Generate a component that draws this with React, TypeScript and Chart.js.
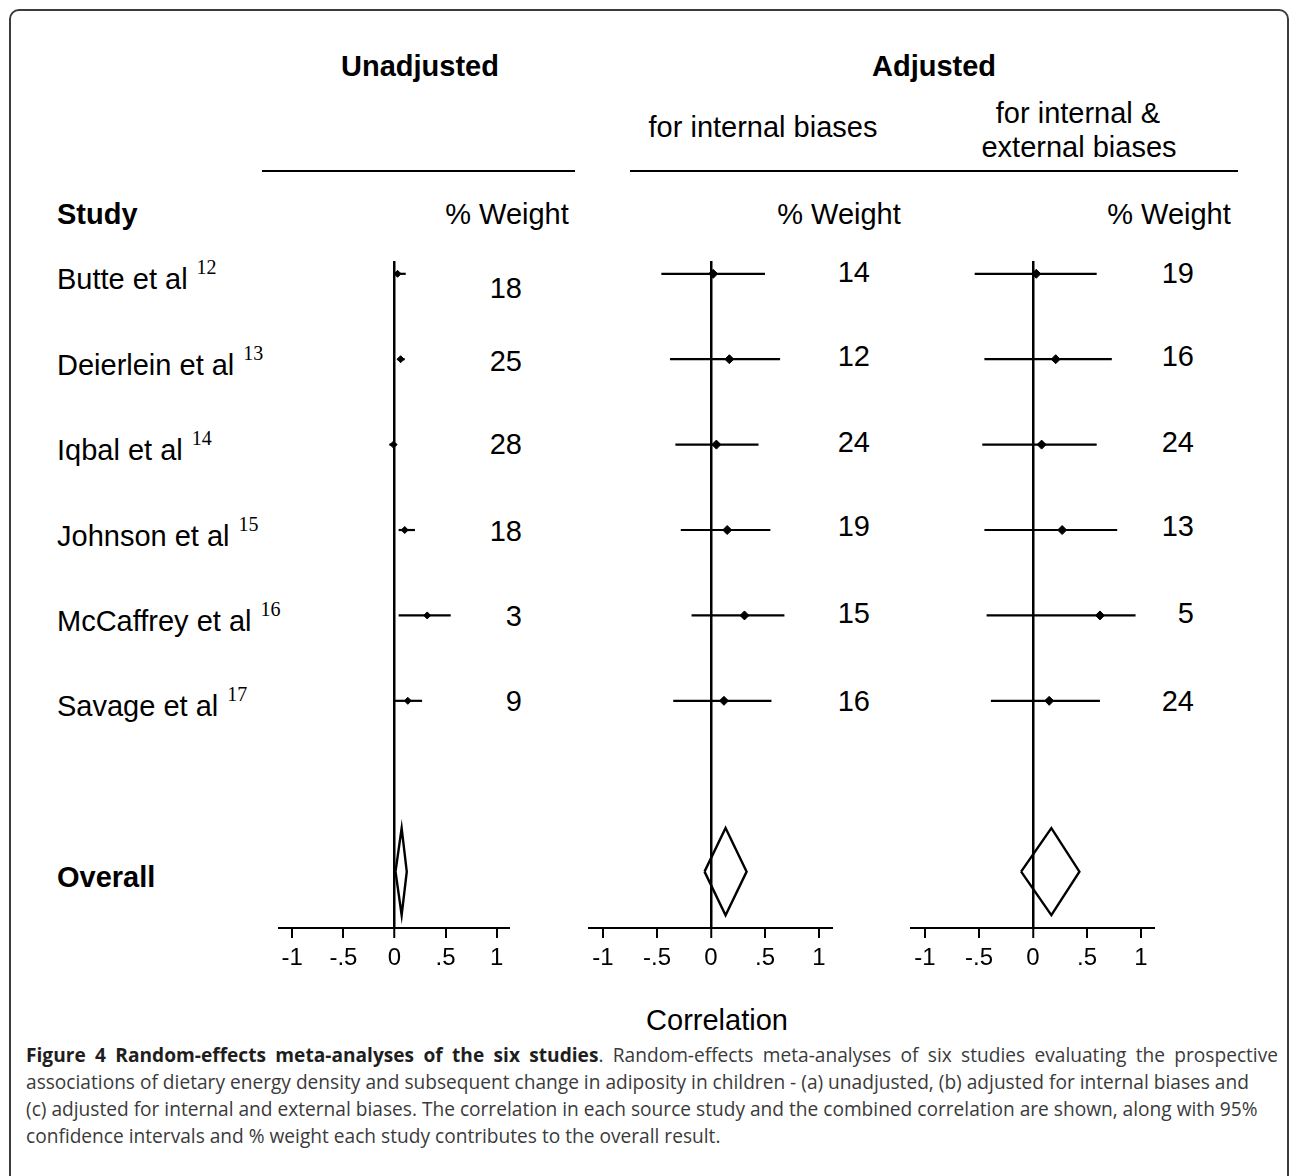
import React, { useEffect, useLayoutEffect, useRef, useState } from 'react';
import { Chart, registerables } from 'chart.js';

Chart.register(...registerables);

// ---------- data ----------
const STUDIES = ['Butte et al', 'Deierlein et al', 'Iqbal et al', 'Johnson et al', 'McCaffrey et al', 'Savage et al'];
const REFS = ['12', '13', '14', '15', '16', '17'];

const TICK_VALUES = [-1, -0.5, 0, 0.5, 1];
const TICK_LABELS = ['-1', '-.5', '0', '.5', '1'];

// (a) unadjusted
const UNADJ_EST = [0.03, 0.06, -0.01, 0.1, 0.32, 0.13];
const UNADJ_LO = [-0.01, 0.03, -0.05, 0.04, 0.04, 0.0];
const UNADJ_HI = [0.11, 0.1, 0.02, 0.2, 0.55, 0.27];
const UNADJ_WEIGHT = [18, 25, 28, 18, 3, 9];
const UNADJ_OVERALL = [0.07, 0.01, 0.12]; // estimate, lower, upper

// (b) adjusted for internal biases
const INT_EST = [0.02, 0.17, 0.05, 0.15, 0.31, 0.12];
const INT_LO = [-0.46, -0.38, -0.33, -0.28, -0.18, -0.35];
const INT_HI = [0.5, 0.64, 0.44, 0.55, 0.68, 0.56];
const INT_WEIGHT = [14, 12, 24, 19, 15, 16];
const INT_OVERALL = [0.135, -0.06, 0.33];

// (c) adjusted for internal & external biases
const EXT_EST = [0.03, 0.21, 0.08, 0.27, 0.62, 0.15];
const EXT_LO = [-0.54, -0.45, -0.47, -0.45, -0.43, -0.39];
const EXT_HI = [0.59, 0.73, 0.59, 0.78, 0.95, 0.62];
const EXT_WEIGHT = [19, 16, 24, 13, 5, 24];
const EXT_OVERALL = [0.17, -0.11, 0.43];

// ---------- layout constants ----------
const SANS = '"Liberation Sans", Arial, Helvetica, sans-serif';
const X_EXT = 1.13;
const Y_MIN = -0.15;
const Y_MAX = 7.66;
const OVERALL_ROW = 7;
const DIAMOND_HALF = 0.51;
const AREA_TOP = 261;
const AREA_BOTTOM = 928;
const PAD_X = 24;
const PAD_TOP = 20;
const AXIS_H = 72;
const FS = 29;

const rowY = (v: number) => AREA_TOP + ((v - Y_MIN) * (AREA_BOTTOM - AREA_TOP)) / (Y_MAX - Y_MIN);

type PanelProps = {
  est: number[];
  lo: number[];
  hi: number[];
  overall: number[];
  center: number;
  ppu: number;
  markerR: number;
};

function Panel({ est, lo, hi, overall, center, ppu, markerR }: PanelProps) {
  const ref = useRef<HTMLCanvasElement>(null);
  const width = Math.round(2 * X_EXT * ppu + 2 * PAD_X);
  const left = center - X_EXT * ppu - PAD_X;
  const top = AREA_TOP - PAD_TOP;
  const height = AREA_BOTTOM + AXIS_H - top;

  useEffect(() => {
    if (!ref.current) return;
    const ciSets = est.map((_, i) => ({
      type: 'scatter' as const,
      data: [
        { x: lo[i], y: i },
        { x: hi[i], y: i },
      ],
      showLine: true,
      borderColor: '#000',
      borderWidth: 2.2,
      pointRadius: 0,
      fill: false,
    }));
    const points = {
      type: 'scatter' as const,
      data: est.map((e, i) => ({ x: e, y: i })),
      showLine: false,
      pointStyle: 'rectRot' as const,
      pointRadius: markerR,
      backgroundColor: '#000',
      borderColor: '#000',
      borderWidth: 1,
    };
    const [oe, ol, oh] = overall;
    const diamond = {
      type: 'scatter' as const,
      data: [
        { x: ol, y: OVERALL_ROW },
        { x: oe, y: OVERALL_ROW - DIAMOND_HALF },
        { x: oh, y: OVERALL_ROW },
        { x: oe, y: OVERALL_ROW + DIAMOND_HALF },
        { x: ol, y: OVERALL_ROW },
      ],
      showLine: true,
      borderColor: '#000',
      borderWidth: 2.4,
      borderJoinStyle: 'miter' as const,
      pointRadius: 0,
      fill: false,
      tension: 0,
    };
    const chart = new Chart(ref.current, {
      type: 'scatter',
      data: { datasets: [...ciSets, points, diamond] as any },
      options: {
        animation: false,
        responsive: false,
        maintainAspectRatio: false,
        events: [],
        layout: { padding: { left: PAD_X, right: PAD_X, top: PAD_TOP, bottom: 0 } },
        plugins: { legend: { display: false }, tooltip: { enabled: false } },
        scales: {
          x: {
            type: 'linear',
            position: 'bottom',
            min: -X_EXT,
            max: X_EXT,
            afterBuildTicks: (s: any) => {
              s.ticks = TICK_VALUES.map((v) => ({ value: v }));
            },
            afterFit: (s: any) => {
              s.height = AXIS_H;
            },
            ticks: {
              autoSkip: false,
              maxRotation: 0,
              padding: 6,
              color: '#000',
              font: { family: SANS, size: 24 },
              callback: (v: any) => {
                const k = TICK_VALUES.indexOf(Number(v));
                return k >= 0 ? TICK_LABELS[k] : '';
              },
            },
            grid: {
              drawOnChartArea: true,
              drawTicks: true,
              color: (c: any) => (c.tick && c.tick.value === 0 ? '#000' : 'rgba(0,0,0,0)'),
              lineWidth: (c: any) => (c.tick && c.tick.value === 0 ? 2.5 : 0),
              tickColor: '#000',
              tickWidth: 2,
              tickLength: 10,
            },
            border: { display: true, color: '#000', width: 2 },
          },
          y: {
            type: 'linear',
            reverse: true,
            min: Y_MIN,
            max: Y_MAX,
            display: false,
          },
        },
      },
    });
    return () => chart.destroy();
  }, []);

  return (
    <canvas
      ref={ref}
      width={width}
      height={height}
      style={{ position: 'absolute', left, top, width, height }}
    />
  );
}

type TextProps = {
  x: number;
  y: number;
  children: React.ReactNode;
  align?: 'left' | 'center' | 'right';
  bold?: boolean;
  size?: number;
};

function T({ x, y, children, align = 'left', bold = false, size = FS }: TextProps) {
  const tx = align === 'center' ? 'translateX(-50%)' : align === 'right' ? 'translateX(-100%)' : 'none';
  return (
    <div
      style={{
        position: 'absolute',
        left: x,
        top: y - size / 2,
        fontFamily: SANS,
        fontSize: size,
        lineHeight: `${size}px`,
        fontWeight: bold ? 700 : 400,
        whiteSpace: 'nowrap',
        transform: tx,
        color: '#000',
      }}
    >
      {children}
    </div>
  );
}

function Caption() {
  const ref = useRef<HTMLSpanElement>(null);
  const [sx, setSx] = useState(1);
  useLayoutEffect(() => {
    if (ref.current) {
      const w = ref.current.offsetWidth;
      if (w > 0) setSx(1232 / w);
    }
  }, []);
  const base: React.CSSProperties = {
    fontFamily: '"Open Sans", "Noto Sans", sans-serif',
    fontSize: 19.5,
    lineHeight: '27px',
    color: '#3a3a3a',
    whiteSpace: 'nowrap',
  };
  return (
    <div
      style={{
        position: 'absolute',
        left: 26,
        top: 1041,
        transform: `scaleX(${sx})`,
        transformOrigin: 'left top',
        ...base,
      }}
    >
      <div style={{ width: 1252 / sx, textAlign: 'justify', textAlignLast: 'justify', whiteSpace: 'normal' }}>
        <b style={{ color: '#1e1e1e', fontWeight: 700 }}>Figure 4 Random-effects meta-analyses of the six studies</b>. Random-effects meta-analyses of six studies evaluating the prospective
      </div>
      <div>
        associations of dietary energy density and subsequent change in adiposity in children - (a) unadjusted, (b) adjusted for internal biases and
      </div>
      <div>
        <span ref={ref}>
          (c) adjusted for internal and external biases. The correlation in each source study and the combined correlation are shown, along with 95%
        </span>
      </div>
      <div>confidence intervals and % weight each study contributes to the overall result.</div>
    </div>
  );
}

const PANELS = [
  { est: UNADJ_EST, lo: UNADJ_LO, hi: UNADJ_HI, overall: UNADJ_OVERALL, weight: UNADJ_WEIGHT, center: 394, ppu: 102, markerR: 3.5, weightRight: 522, weightX: 507, wdy: [15, 2, 0, 1, 1, 1] },
  { est: INT_EST, lo: INT_LO, hi: INT_HI, overall: INT_OVERALL, weight: INT_WEIGHT, center: 710.7, ppu: 108, markerR: 4.5, weightRight: 870, weightX: 839, wdy: [-1, -3, -2, -4, -2, 1] },
  { est: EXT_EST, lo: EXT_LO, hi: EXT_HI, overall: EXT_OVERALL, weight: EXT_WEIGHT, center: 1032.7, ppu: 108, markerR: 4.5, weightRight: 1194, weightX: 1169, wdy: [0, -3, -2, -4, -2, 1] },
];

export default function App() {
  return (
    <div
      style={{
        position: 'absolute',
        left: 0,
        top: 0,
        width: 1290,
        height: 1176,
        overflow: 'hidden',
        background: '#fff',
      }}
    >
      <div
        style={{
          position: 'absolute',
          left: 9,
          top: 9,
          width: 1280,
          height: 1300,
          border: '2px solid #3c3c3c',
          borderRadius: 10,
          boxSizing: 'border-box',
        }}
      />

      {/* headers */}
      <T x={420} y={66} align="center" bold>Unadjusted</T>
      <T x={934} y={66} align="center" bold>Adjusted</T>
      <T x={763} y={127} align="center">for internal biases</T>
      <T x={1078} y={113} align="center">for internal &amp;</T>
      <T x={1079} y={147} align="center">external biases</T>
      <div style={{ position: 'absolute', left: 262, top: 170, width: 313, height: 0, borderTop: '2px solid #000' }} />
      <div style={{ position: 'absolute', left: 630, top: 170, width: 608, height: 0, borderTop: '2px solid #000' }} />

      <T x={57} y={214} bold>Study</T>
      {PANELS.map((p, k) => (
        <T key={'w' + k} x={p.weightX} y={214} align="center">% Weight</T>
      ))}

      {STUDIES.map((s, i) => (
        <T key={s} x={57} y={rowY(i) + 6}>
          {s}
          <span
            style={{
              fontFamily: '"Liberation Serif", "Times New Roman", serif',
              fontSize: 20,
              position: 'relative',
              top: -15,
              marginLeft: 9,
            }}
          >
            {REFS[i]}
          </span>
        </T>
      ))}
      <T x={57} y={rowY(OVERALL_ROW) + 6} bold>Overall</T>

      {PANELS.map((p, k) =>
        p.weight.map((w, i) => (
          <T key={`pw${k}-${i}`} x={p.weightRight} y={rowY(i) + p.wdy[i]} align="right">
            {String(w)}
          </T>
        ))
      )}

      {PANELS.map((p, k) => (
        <Panel key={'p' + k} est={p.est} lo={p.lo} hi={p.hi} overall={p.overall} center={p.center} ppu={p.ppu} markerR={p.markerR} />
      ))}

      <T x={717} y={1020} align="center">Correlation</T>

      <Caption />
    </div>
  );
}
